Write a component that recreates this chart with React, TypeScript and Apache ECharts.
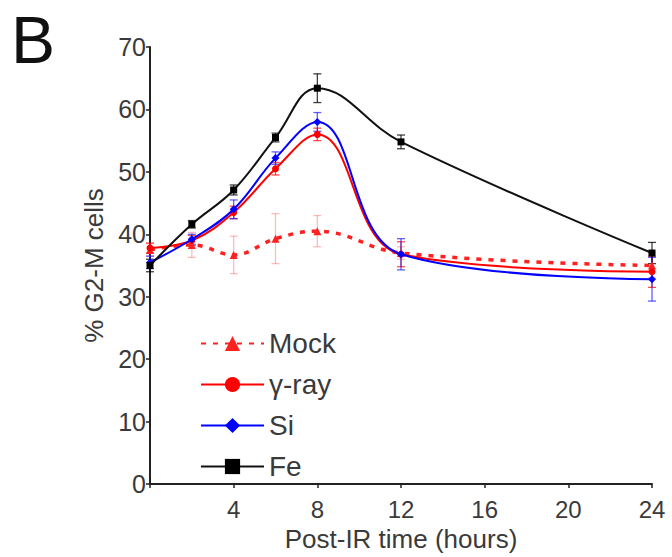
import React, { useEffect, useRef } from "react";
import * as echarts from "echarts";

const times = [0, 2, 4, 6, 8, 12, 24];
const mock = [37.5, 38.3, 36.7, 39.3, 40.5, 37.0, 35.0];
const gammaRay = [37.8, 39.0, 43.5, 50.5, 56.0, 36.8, 34.0];
const si = [35.5, 39.2, 44.0, 52.2, 58.0, 36.8, 32.8];
const fe = [35.0, 41.6, 47.1, 55.5, 63.4, 54.8, 37.0];

const mockErr = [1.0, 2.0, 3.0, 4.0, 2.5, 1.0, 2.0];
const gammaErr = [0.8, 0.8, 1.0, 1.0, 1.0, 2.0, 2.5];
const siErr = [1.0, 0.8, 1.5, 1.0, 1.5, 2.5, 3.5];
const feErr = [1.0, 0.6, 0.8, 0.7, 2.3, 1.1, 1.7];

const xTicks = [0, 4, 8, 12, 16, 20, 24];
const yTicks = [0, 10, 20, 30, 40, 50, 60, 70];

const FONT = "'Liberation Sans', Arial, sans-serif";
const TEXT = "#3a3a3a";

const pts = (vals: number[]) => times.map((t, i) => [t, vals[i]]);
const errPts = (vals: number[], errs: number[]) =>
  times.map((t, i) => [t, vals[i] - errs[i], vals[i] + errs[i]]);

function errSeries(name: string, vals: number[], errs: number[], color: string, z: number) {
  return {
    type: "custom",
    name,
    z,
    data: errPts(vals, errs),
    encode: { x: 0, y: [1, 2] },
    silent: true,
    renderItem: (params: any, api: any) => {
      const x = api.value(0);
      const lo = api.value(1);
      const hi = api.value(2);
      const top = api.coord([x, hi]);
      const bot = api.coord([x, lo]);
      const w = 4;
      const style = { stroke: color, lineWidth: 1.3 };
      return {
        type: "group",
        children: [
          { type: "line", shape: { x1: top[0], y1: top[1], x2: bot[0], y2: bot[1] }, style },
          { type: "line", shape: { x1: top[0] - w, y1: top[1], x2: top[0] + w, y2: top[1] }, style },
          { type: "line", shape: { x1: bot[0] - w, y1: bot[1], x2: bot[0] + w, y2: bot[1] }, style },
        ],
      };
    },
  };
}

export default function App() {
  const ref = useRef<HTMLDivElement>(null);
  useEffect(() => {
    if (!ref.current) return;
    const chart = echarts.init(ref.current, null, { renderer: "svg" });
    chart.setOption({
      animation: false,
      backgroundColor: "#ffffff",
      textStyle: { fontFamily: FONT },
      grid: { left: 150, right: 20, top: 47, bottom: 67, containLabel: false },
      graphic: [
        {
          type: "text",
          x: 11,
          y: 40,
          style: {
            text: "B",
            fontSize: 66,
            lineHeight: 66,
            fontFamily: FONT,
            fill: "#111",
            verticalAlign: "middle",
            align: "left",
          },
        },
      ],
      legend: {
        data: ["Mock", "γ-ray", "Si", "Fe"],
        orient: "vertical",
        left: 195,
        top: 324,
        itemWidth: 63,
        itemHeight: 19,
        itemGap: 12,
        textStyle: { fontSize: 28, color: TEXT, fontFamily: FONT, lineHeight: 29 },
      },
      xAxis: {
        type: "value",
        min: 0,
        max: 24,
        interval: 4,
        name: "Post-IR time (hours)",
        nameLocation: "middle",
        nameGap: 42,
        nameTextStyle: { fontSize: 26, color: TEXT, fontFamily: FONT },
        axisLine: { onZero: false, lineStyle: { color: "#222", width: 2 } },
        axisTick: { show: true, length: 4, lineStyle: { color: "#222", width: 1.5 } },
        axisLabel: {
          fontSize: 24,
          color: TEXT,
          margin: 13,
          formatter: (v: number) => (xTicks.includes(v) && v !== 0 ? String(v) : ""),
        },
        splitLine: { show: false },
      },
      yAxis: {
        type: "value",
        min: 0,
        max: 70,
        interval: 10,
        name: "% G2-M cells",
        nameLocation: "middle",
        nameGap: 40,
        nameTextStyle: { fontSize: 26, color: TEXT, fontFamily: FONT },
        axisLine: { show: true, lineStyle: { color: "#222", width: 2 } },
        axisTick: { show: true, length: 4, lineStyle: { color: "#222", width: 1.5 } },
        axisLabel: {
          fontSize: 25,
          color: TEXT,
          margin: 4,
          formatter: (v: number) => (yTicks.includes(v) ? String(v) : ""),
        },
        splitLine: { show: false },
      },
      series: [
        errSeries("Mock-err", mock, mockErr, "rgba(255,60,60,0.35)", 1),
        errSeries("γ-ray-err", gammaRay, gammaErr, "rgba(255,0,0,0.7)", 2),
        errSeries("Si-err", si, siErr, "rgba(30,30,255,0.7)", 3),
        errSeries("Fe-err", fe, feErr, "rgba(0,0,0,0.75)", 4),
        {
          type: "line",
          name: "Mock",
          data: pts(mock),
          smooth: 0.4,
          symbol: "triangle",
          symbolSize: 8,
          z: 5,
          itemStyle: { color: "#ff2020" },
          lineStyle: { color: "#ff2020", width: 3.5, type: [5, 7] },
        },
        {
          type: "line",
          name: "γ-ray",
          data: pts(gammaRay),
          smooth: 0.4,
          symbol: "circle",
          symbolSize: 7,
          z: 6,
          itemStyle: { color: "#ff0000" },
          lineStyle: { color: "#ff0000", width: 2 },
        },
        {
          type: "line",
          name: "Si",
          data: pts(si),
          smooth: 0.4,
          symbol: "diamond",
          symbolSize: 8,
          z: 7,
          itemStyle: { color: "#0000ff" },
          lineStyle: { color: "#0000ff", width: 2 },
        },
        {
          type: "line",
          name: "Fe",
          data: pts(fe),
          smooth: 0.4,
          symbol: "rect",
          symbolSize: 7,
          z: 8,
          itemStyle: { color: "#000000" },
          lineStyle: { color: "#111111", width: 2 },
        },
      ],
    });
    return () => chart.dispose();
  }, []);
  return (
    <div
      ref={ref}
      style={{ position: "fixed", left: 0, top: 0, width: 672, height: 557, background: "#fff" }}
    />
  );
}
